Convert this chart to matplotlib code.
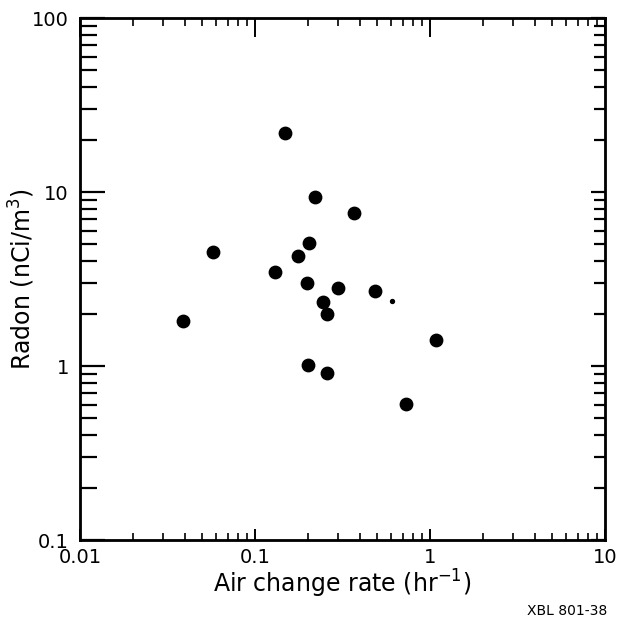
"""
plot.py - radon concentration vs air change rate (log-log scatter)
"""
import matplotlib
matplotlib.use("Agg")
import matplotlib.pyplot as plt

# ---------------- DATA ----------------
air_change = [0.148, 0.220, 0.369, 0.204, 0.175, 0.130, 0.199, 0.299, 0.485,
              0.245, 0.259, 1.08, 0.202, 0.259, 0.0388, 0.0575, 0.73]
radon = [21.9, 9.4, 7.6, 5.07, 4.29, 3.48, 2.99, 2.80, 2.70,
         2.32, 1.99, 1.42, 1.02, 0.91, 1.82, 4.5, 0.605]

# the little speck next to the 0.5 point
small_x = [0.604]
small_y = [2.36]

x_lim = (0.01, 10)
y_lim = (0.1, 100)
x_ticks = [0.01, 0.1, 1, 10]
x_ticklabels = ["0.01", "0.1", "1", "10"]
y_ticks = [0.1, 1, 10, 100]
y_ticklabels = ["0.1", "1", "10", "100"]

# ---------------- FIGURE ----------------
plt.rcParams["font.family"] = ["DejaVu Sans"]
fig = plt.figure(figsize=(6.17, 6.26), dpi=100)
ax = fig.add_axes([80 / 617, 1 - 540 / 626, 525 / 617, 522 / 626])

ax.scatter(air_change, radon, s=80, color="black", zorder=3)
ax.scatter(small_x, small_y, s=8, color="black", zorder=3)

ax.set_xscale("log")
ax.set_yscale("log")
ax.set_xlim(*x_lim)
ax.set_ylim(*y_lim)
ax.set_xticks(x_ticks)
ax.set_xticklabels(x_ticklabels)
ax.set_yticks(y_ticks)
ax.set_yticklabels(y_ticklabels)

for s in ax.spines.values():
    s.set_linewidth(2)

# left / bottom ticks (inward, left ones long like the original)
ax.tick_params(axis="y", which="major", direction="in", length=18, width=1.6,
               labelsize=14, pad=8)
ax.tick_params(axis="y", which="minor", direction="in", length=12, width=1.6)
ax.tick_params(axis="x", which="major", direction="in", length=8, width=1.4,
               labelsize=14, pad=6)
ax.tick_params(axis="x", which="minor", direction="in", length=5, width=1.2)

# right ticks
ax_r = ax.twinx()
ax_r.set_yscale("log")
ax_r.set_ylim(*y_lim)
ax_r.tick_params(axis="y", which="major", direction="in", length=10, width=1.6,
                 labelright=False)
ax_r.tick_params(axis="y", which="minor", direction="in", length=8, width=1.6)

# top ticks
ax_t = ax.twiny()
ax_t.set_xscale("log")
ax_t.set_xlim(*x_lim)
ax_t.tick_params(axis="x", which="major", direction="in", length=14, width=1.4,
                 labeltop=False)
ax_t.tick_params(axis="x", which="minor", direction="in", length=6, width=1.2)

ax.set_xlabel("Air change rate (hr$^{-1}$)", fontsize=17)
ax.set_ylabel("Radon (nCi/m$^3$)", fontsize=17)
ax.xaxis.set_label_coords(0.5, -(568 - 540) / 522)
ax.yaxis.set_label_coords(-(80 - 37) / 525, 0.5)

fig.text(0.985, 1 - 611 / 626, "XBL 801-38", ha="right", va="center", fontsize=10)

fig.savefig("out.png", dpi=100)
